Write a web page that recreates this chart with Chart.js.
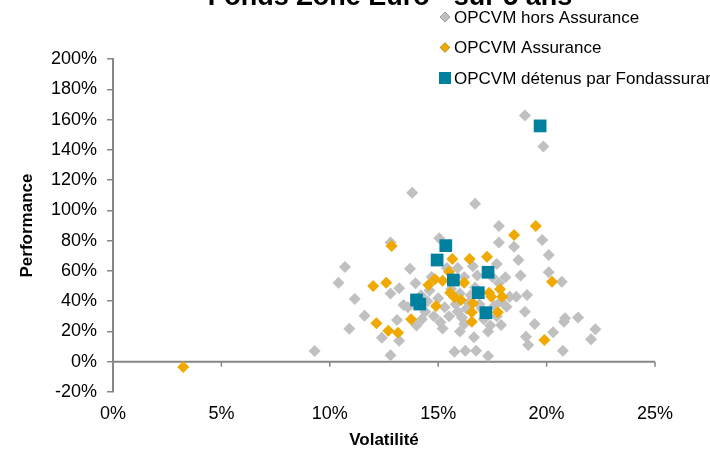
<!DOCTYPE html>
<html>
<head>
<meta charset="utf-8">
<script src="https://cdn.jsdelivr.net/npm/chart.js@4.4.1/dist/chart.umd.min.js"></script>
<style>
  html, body { margin: 0; padding: 0; background: #fff; }
  #wrap { width: 710px; height: 451px; position: relative; }
</style>
</head>
<body>
<div id="wrap"><canvas id="chart"></canvas></div>
<script>
// Volatilité (%) / Performance (%)
const horsVol = [13.8, 12.8, 10.7, 10.4, 13.7, 13.95, 13.2, 12.8, 11.15, 13.4, 11.6, 13.1, 10.9, 12.4, 13.2, 9.3, 12.8,
  19.0, 19.85, 16.7, 17.8, 17.8, 18.5, 19.8, 15.05, 18.7, 20.1, 17.7, 18.8, 20.1, 18.1, 20.7, 18.3, 19.1, 18.6, 19.0,
  18.15, 17.9, 19.45, 20.3, 20.85, 21.45, 20.8, 22.25, 22.05, 20.75, 19.05, 19.15, 16.65, 17.3, 15.75, 16.25, 16.75, 14.25,
  14.6, 14.2, 14.4, 14.8, 15.1, 15.3, 15.5, 15.8, 15.9, 16.1, 16.3, 16.5, 16.7, 16.9, 17.1, 17.4, 17.6, 17.8, 16.2, 15.9,
  16.8, 17.5, 15.0, 15.6, 16.0, 16.4, 17.0, 17.9, 14.7, 15.2, 16.0, 17.3, 15.4, 16.6, 14.5, 13.6, 16.2, 17.7, 14.0];
const horsPerf = [111.7, 78.7, 62.6, 52.2, 61.5, 51.8, 48.5, 45.0, 41.5, 37.5, 30.4, 27.6, 21.8, 15.9, 13.9, 7.1, 4.2,
  162.6, 142.2, 104.3, 89.7, 78.7, 76.0, 80.5, 81.6, 67.2, 70.5, 64.6, 56.9, 59.1, 55.8, 52.9, 43.0, 44.1, 43.0, 33.1,
  36.4, 24.3, 24.9, 19.4, 28.7, 29.3, 26.4, 21.4, 14.8, 7.3, 16.5, 11.0, 16.1, 3.8, 6.6, 7.3, 7.3, 28.0,
  47, 44, 33, 30, 26, 36, 30, 38, 33, 29, 35, 44, 49, 38, 28, 24, 37, 52, 56, 62,
  57, 56, 42, 48, 45, 39, 35, 40, 56, 22, 20, 20, 62, 63, 40, 36, 25, 30, 24];

const assurVol = [3.24, 12.85, 12.0, 12.6, 13.75, 12.15, 12.7, 13.15, 19.5, 18.5, 15.65, 16.45, 17.25, 15.5, 20.25, 14.85,
  14.55, 15.2, 16.2, 17.85, 17.95, 17.35, 17.45, 15.55, 15.75, 16.05, 16.6, 17.75, 14.9, 16.55, 16.55, 19.9];
const assurPerf = [-3.5, 76.5, 50.0, 52.2, 28.0, 25.4, 20.5, 19.2, 89.7, 83.8, 67.9, 67.9, 69.4, 59.5, 52.9, 54.5,
  50.7, 53.5, 52.2, 47.9, 43.0, 45.6, 43.0, 45.6, 42.6, 40.8, 38.6, 32.7, 36.8, 32.7, 26.4, 14.3];

const fondVol = [19.7, 15.35, 14.95, 17.3, 15.7, 16.85, 14.0, 14.15, 17.2];
const fondPerf = [155.8, 76.7, 67.2, 59.1, 54.0, 45.6, 40.8, 38.1, 32.4];

const seriesNames = ['OPCVM hors Assurance', 'OPCVM Assurance', 'OPCVM détenus par Fondassurance'];
const titleText = 'Fonds Zone Euro - sur 5 ans';

const toPoints = (xs, ys) => xs.map((x, i) => ({ x: x, y: ys[i] }));
const axisGray = '#868686';

Chart.defaults.font.family = '"Liberation Sans", Arial, sans-serif';
Chart.defaults.color = '#000';

// x axis line crossing at 0 % with small tick marks
const zeroAxis = {
  id: 'zeroAxis',
  beforeDatasetsDraw(chart) {
    const ctx = chart.ctx;
    const xs = chart.scales.x, ys = chart.scales.y;
    const y0 = ys.getPixelForValue(0);
    ctx.save();
    ctx.strokeStyle = axisGray;
    ctx.lineWidth = 2;
    ctx.beginPath();
    ctx.moveTo(chart.chartArea.left, y0);
    ctx.lineTo(chart.chartArea.right, y0);
    ctx.stroke();
    ctx.lineWidth = 1.5;
    xs.ticks.forEach(t => {
      const px = xs.getPixelForValue(t.value);
      ctx.beginPath();
      ctx.moveTo(px, y0);
      ctx.lineTo(px, y0 + 5);
      ctx.stroke();
    });
    ctx.restore();
  }
};

// title (cut at the top) and legend in the top right
const topTexts = {
  id: 'topTexts',
  afterDraw(chart) {
    const ctx = chart.ctx;
    ctx.save();
    ctx.fillStyle = '#000';
    ctx.font = 'bold 27px "Liberation Sans", Arial, sans-serif';
    ctx.textAlign = 'center';
    ctx.textBaseline = 'alphabetic';
    ctx.fillText(titleText, 390, 5);

    ctx.font = '17px "Liberation Sans", Arial, sans-serif';
    ctx.textAlign = 'left';
    ctx.textBaseline = 'middle';
    const rows = [17, 47.5, 78];
    chart.data.datasets.forEach((ds, i) => {
      const y = rows[i];
      Chart.helpers.drawPoint(ctx, {
        pointStyle: ds.pointStyle,
        radius: ds.pointStyle === 'rect' ? 8.5 : 5,
        borderWidth: 0
      }, 445, y);
      ctx.fillStyle = ds.backgroundColor;
      ctx.fill();
      ctx.fillStyle = '#000';
      ctx.fillText(ds.label, 454, y + 1);
    });
    ctx.restore();
  }
};

new Chart(document.getElementById('chart'), {
  type: 'scatter',
  data: {
    datasets: [
      {
        label: seriesNames[0],
        data: toPoints(horsVol, horsPerf),
        backgroundColor: '#C0C0C0',
        borderWidth: 0,
        pointStyle: 'rectRot',
        pointRadius: 6,
        order: 3
      },
      {
        label: seriesNames[1],
        data: toPoints(assurVol, assurPerf),
        backgroundColor: '#F0A900',
        borderWidth: 0,
        pointStyle: 'rectRot',
        pointRadius: 6,
        order: 2
      },
      {
        label: seriesNames[2],
        data: toPoints(fondVol, fondPerf),
        backgroundColor: '#00809F',
        borderWidth: 0,
        pointStyle: 'rect',
        pointRadius: 9,
        order: 1
      }
    ]
  },
  options: {
    responsive: true,
    maintainAspectRatio: false,
    animation: false,
    layout: { padding: { top: 59, right: 55, left: 0, bottom: 0 } },
    plugins: {
      legend: { display: false },
      tooltip: { enabled: false }
    },
    scales: {
      x: {
        type: 'linear',
        min: 0,
        max: 25,
        afterFit: s => { s.height = 59; },
        border: { display: false },
        grid: { display: false, drawTicks: false },
        ticks: {
          stepSize: 5,
          padding: 11,
          font: { size: 18 },
          callback: v => v + '%'
        },
        title: {
          display: true,
          text: 'Volatilité',
          font: { size: 17, weight: 'bold' },
          padding: { top: 0, bottom: 0 }
        }
      },
      y: {
        type: 'linear',
        min: -20,
        max: 200,
        afterFit: s => { s.width = 113; },
        border: { display: true, color: axisGray, width: 2 },
        grid: {
          drawOnChartArea: false,
          drawTicks: true,
          tickLength: 6,
          color: axisGray,
          lineWidth: 1.5
        },
        ticks: {
          stepSize: 20,
          padding: 10,
          font: { size: 18 },
          callback: v => v + '%'
        },
        title: {
          display: true,
          text: 'Performance',
          font: { size: 17, weight: 'bold' },
          padding: { top: 17, bottom: 0 }
        }
      }
    }
  },
  plugins: [zeroAxis, topTexts]
});
</script>
</body>
</html>
